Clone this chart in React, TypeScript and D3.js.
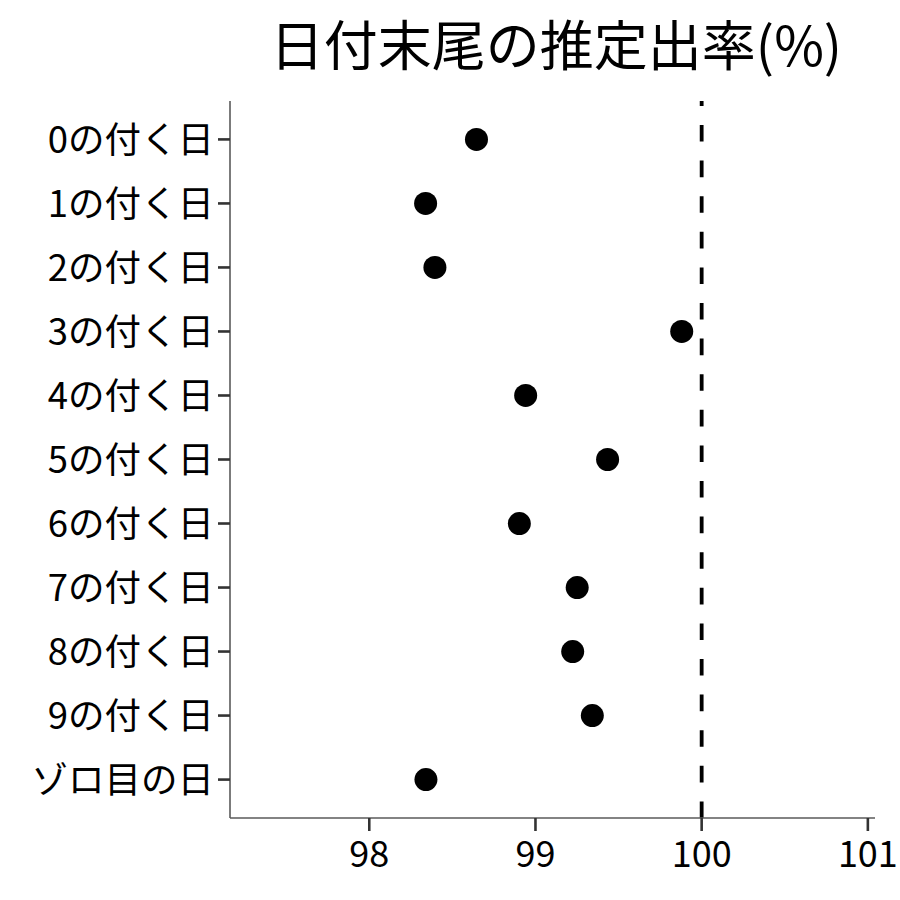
import React from "react";
import * as d3 from "d3";

const categories: string[] = [
  "0の付く日",
  "1の付く日",
  "2の付く日",
  "3の付く日",
  "4の付く日",
  "5の付く日",
  "6の付く日",
  "7の付く日",
  "8の付く日",
  "9の付く日",
  "ゾロ目の日",
];
const rates: number[] = [98.645, 98.339, 98.395, 99.88, 98.941, 99.434, 98.903, 99.251, 99.224, 99.342, 98.341];
const xTicks: number[] = [98, 99, 100, 101];
const refValue = 100;
const title = "日付末尾の推定出率(%)";

const W = 900;
const H = 900;
const panel = { left: 230, right: 875, top: 101, bottom: 818 };
const FONT = "'Noto Sans CJK JP', 'Noto Sans', sans-serif";

export default function App() {
  const x = d3.scaleLinear().domain([97.162, 101.043]).range([panel.left, panel.right]);
  const y = d3.scalePoint<string>().domain(categories).range([panel.top, panel.bottom]).padding(0.6);

  return (
    <div style={{ position: "absolute", left: 0, top: 0 }}>
      <svg width={W} height={H} style={{ display: "block", background: "#fff" }} fontFamily={FONT}>
        <rect x={0} y={0} width={W} height={H} fill="#fff" />
        {/* title */}
        <text x={556} y={66} textAnchor="middle" fontSize={54} fill="#000">
          {title}
        </text>

        {/* reference line */}
        <line
          x1={x(refValue)}
          x2={x(refValue)}
          y1={panel.bottom}
          y2={panel.top}
          stroke="#000"
          strokeWidth={3.8}
          strokeDasharray="16.6,19"
        />

        {/* axes lines */}
        <line x1={panel.left} x2={panel.left} y1={panel.top} y2={panel.bottom} stroke="#5a5a5a" strokeWidth={1.6} />
        <line x1={panel.left} x2={panel.right} y1={panel.bottom} y2={panel.bottom} stroke="#5a5a5a" strokeWidth={1.6} />

        {/* y ticks and labels */}
        {categories.map((c) => (
          <g key={c} transform={`translate(0,${y(c)})`}>
            <line x1={panel.left - 12} x2={panel.left} y1={0} y2={0} stroke="#333" strokeWidth={2.6} />
            <text x={panel.left - 16} dy="0.36em" textAnchor="end" fontSize={36.5} fill="#000">
              {c}
            </text>
          </g>
        ))}

        {/* x ticks and labels */}
        {xTicks.map((t) => (
          <g key={t} transform={`translate(${x(t)},0)`}>
            <line x1={0} x2={0} y1={panel.bottom} y2={panel.bottom + 13} stroke="#333" strokeWidth={2.6} />
            <text y={867} textAnchor="middle" fontSize={36} fill="#000">
              {t}
            </text>
          </g>
        ))}

        {/* points */}
        {categories.map((c, i) => (
          <circle key={c} cx={x(rates[i])} cy={y(c)} r={11.5} fill="#000" />
        ))}
      </svg>
    </div>
  );
}
